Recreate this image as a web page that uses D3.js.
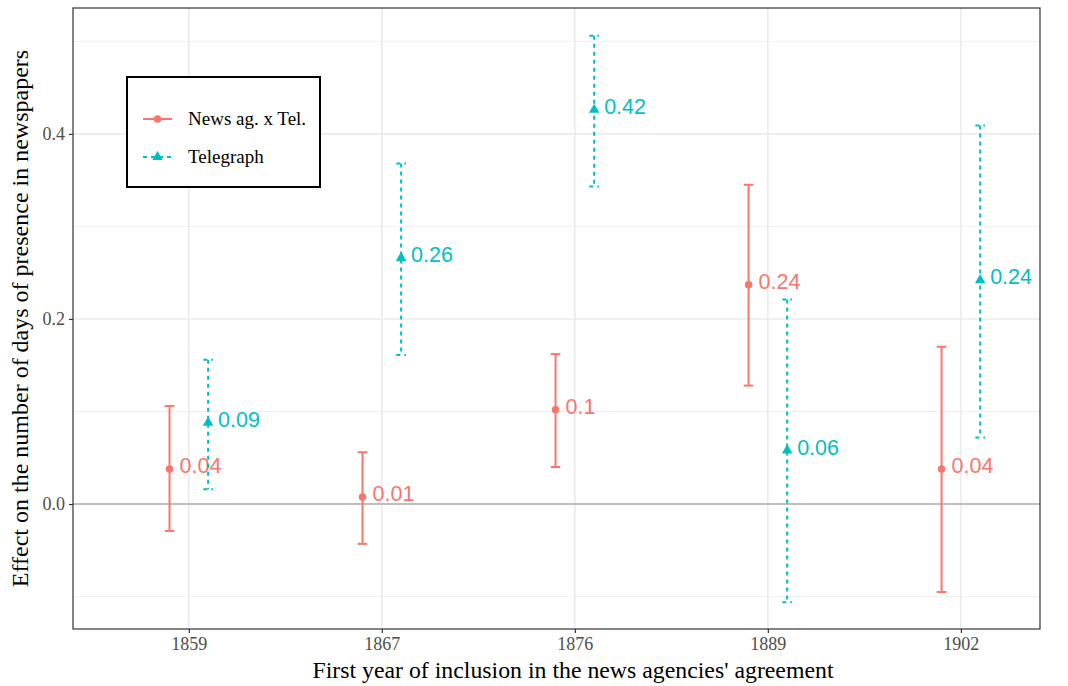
<!DOCTYPE html>
<html>
<head>
<meta charset="utf-8">
<script src="https://cdn.jsdelivr.net/npm/d3@7"></script>
<style>
  html, body { margin: 0; padding: 0; background: #fff; }
  svg { display: block; }
</style>
</head>
<body>
<svg id="chart" width="1068" height="686"></svg>
<script>
// ---------------- data ----------------
const categories = ["1859", "1867", "1876", "1889", "1902"];
const seriesNames = ["News ag. x Tel.", "Telegraph"];

const newsEstimate = [0.038, 0.0076, 0.102, 0.237, 0.038];
const newsLower    = [-0.029, -0.043, 0.040, 0.128, -0.095];
const newsUpper    = [0.106, 0.056, 0.162, 0.345, 0.170];
const newsLabels   = ["0.04", "0.01", "0.1", "0.24", "0.04"];

const telEstimate  = [0.088, 0.266, 0.426, 0.058, 0.242];
const telLower     = [0.016, 0.161, 0.343, -0.106, 0.072];
const telUpper     = [0.156, 0.368, 0.506, 0.221, 0.409];
const telLabels    = ["0.09", "0.26", "0.42", "0.06", "0.24"];

const yTicks = [0.0, 0.2, 0.4];
const yTickLabels = ["0.0", "0.2", "0.4"];
const yMinor = [-0.1, 0.1, 0.3, 0.5];

// ---------------- layout ----------------
const svg = d3.select("#chart");
const panel = { left: 73, right: 1040, top: 8, bottom: 629 };
const colors = ["#F8766D", "#00BFC4"];
const serif = "'Liberation Serif', 'Times New Roman', serif";
const sans = "'Liberation Sans', Arial, Helvetica, sans-serif";

const xIndex = d3.scaleLinear().domain([-0.6, 4.41]).range([panel.left, panel.right]);
const xCat = d => xIndex(categories.indexOf(d));
const y = d3.scaleLinear().domain([-0.135, 0.536]).range([panel.bottom, panel.top]);
const dodge = 0.1;

// grid
const g = svg.append("g");
g.selectAll("line.minor").data(yMinor).enter().append("line")
  .attr("x1", panel.left).attr("x2", panel.right)
  .attr("y1", d => y(d)).attr("y2", d => y(d))
  .attr("stroke", "#EBEBEB").attr("stroke-width", 0.8);
g.selectAll("line.major").data(yTicks).enter().append("line")
  .attr("x1", panel.left).attr("x2", panel.right)
  .attr("y1", d => y(d)).attr("y2", d => y(d))
  .attr("stroke", "#EBEBEB").attr("stroke-width", 1.6);
g.selectAll("line.vmajor").data(categories).enter().append("line")
  .attr("x1", d => xCat(d)).attr("x2", d => xCat(d))
  .attr("y1", panel.top).attr("y2", panel.bottom)
  .attr("stroke", "#EBEBEB").attr("stroke-width", 1.6);

// zero line
g.append("line")
  .attr("x1", panel.left).attr("x2", panel.right)
  .attr("y1", y(0)).attr("y2", y(0))
  .attr("stroke", "#BEBEBE").attr("stroke-width", 2);

// series
const series = [
  { name: seriesNames[0], est: newsEstimate, lo: newsLower, hi: newsUpper, lab: newsLabels, off: -dodge, color: colors[0], dash: null, shape: d3.symbolCircle },
  { name: seriesNames[1], est: telEstimate, lo: telLower, hi: telUpper, lab: telLabels, off: dodge, color: colors[1], dash: "4,4", shape: d3.symbolTriangle }
];

const capHalf = 0.025;
series.forEach(s => {
  const sg = svg.append("g");
  categories.forEach((c, i) => {
    const cx = xIndex(i + s.off);
    const x0 = xIndex(i + s.off - capHalf), x1 = xIndex(i + s.off + capHalf);
    const segs = [
      [x0, y(s.hi[i]), x1, y(s.hi[i])],
      [cx, y(s.hi[i]), cx, y(s.lo[i])],
      [x0, y(s.lo[i]), x1, y(s.lo[i])]
    ];
    segs.forEach(sgm => {
      sg.append("line")
        .attr("x1", sgm[0]).attr("y1", sgm[1]).attr("x2", sgm[2]).attr("y2", sgm[3])
        .attr("stroke", s.color).attr("stroke-width", 2)
        .attr("stroke-dasharray", s.dash);
    });
    sg.append("path")
      .attr("d", d3.symbol().type(s.shape).size(s.shape === d3.symbolCircle ? 44 : 48)())
      .attr("transform", `translate(${cx},${y(s.est[i])})`)
      .attr("fill", s.color);
    sg.append("text")
      .attr("x", cx + 10).attr("y", y(s.est[i]))
      .attr("dy", "0.2em")
      .style("font-family", sans).style("font-size", "21.5px")
      .attr("fill", s.color)
      .text(s.lab[i]);
  });
});

// panel border
svg.append("rect")
  .attr("x", panel.left).attr("y", panel.top)
  .attr("width", panel.right - panel.left).attr("height", panel.bottom - panel.top)
  .attr("fill", "none").attr("stroke", "#333333").attr("stroke-width", 1.2);

// axes
const yAxis = d3.axisLeft(y).tickValues(yTicks).tickFormat((d, i) => yTickLabels[i]).tickSize(4).tickPadding(4);
const ya = svg.append("g").attr("transform", `translate(${panel.left},0)`).call(yAxis);
ya.select(".domain").remove();
ya.selectAll(".tick line").attr("stroke", "#333333").attr("stroke-width", 1.2);
ya.selectAll(".tick text").style("font-family", serif).style("font-size", "18px").attr("fill", "#4D4D4D");

const xBand = d3.scalePoint().domain(categories).range([xIndex(0), xIndex(4)]);
const xAxis = d3.axisBottom(xBand).tickSize(4).tickPadding(4);
const xa = svg.append("g").attr("transform", `translate(0,${panel.bottom})`).call(xAxis);
xa.select(".domain").remove();
xa.selectAll(".tick line").attr("stroke", "#333333").attr("stroke-width", 1.2);
xa.selectAll(".tick text").style("font-family", serif).style("font-size", "18px").attr("fill", "#4D4D4D");

// axis titles
svg.append("text")
  .attr("x", 573).attr("y", 678)
  .attr("text-anchor", "middle")
  .style("font-family", serif).style("font-size", "23.8px").attr("fill", "#000")
  .text("First year of inclusion in the news agencies' agreement");
svg.append("text")
  .attr("transform", `translate(28,${(panel.top + panel.bottom) / 2}) rotate(-90)`)
  .attr("text-anchor", "middle")
  .style("font-family", serif).style("font-size", "24px").attr("fill", "#000")
  .text("Effect on the number of days of presence in newspapers");

// legend
const lg = svg.append("g");
lg.append("rect")
  .attr("x", 127).attr("y", 77).attr("width", 193).attr("height", 110)
  .attr("fill", "#fff").attr("stroke", "#000").attr("stroke-width", 2);
series.forEach((s, i) => {
  const ly = 119 + i * 38;
  lg.append("line")
    .attr("x1", 143).attr("x2", 172).attr("y1", ly).attr("y2", ly)
    .attr("stroke", s.color).attr("stroke-width", 2)
    .attr("stroke-dasharray", s.dash);
  lg.append("path")
    .attr("d", d3.symbol().type(s.shape).size(s.shape === d3.symbolCircle ? 44 : 48)())
    .attr("transform", `translate(157.5,${ly})`)
    .attr("fill", s.color);
  lg.append("text")
    .attr("x", 188).attr("y", ly).attr("dy", "0.33em")
    .style("font-family", serif).style("font-size", "19px").attr("fill", "#000")
    .text(s.name);
});
</script>
</body>
</html>
